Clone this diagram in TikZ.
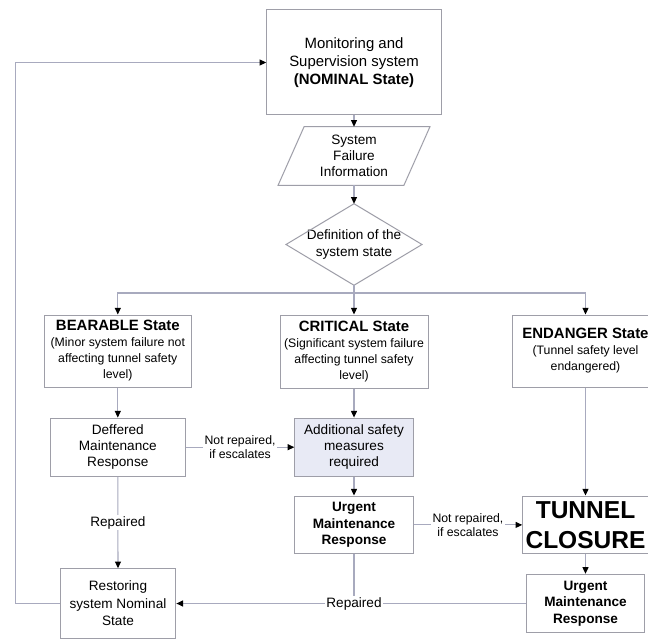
\documentclass[tikz,border=0pt]{standalone}
\usepackage{fontspec}
\setmainfont{Liberation Sans}
\usetikzlibrary{arrows.meta,calc}
\definecolor{lnc}{RGB}{168,170,190}
\definecolor{bdc}{RGB}{158,158,168}
\definecolor{addfill}{RGB}{232,234,245}
\newcommand{\fmain}{\fontsize{10.2}{12.2}\selectfont}
\newcommand{\fsmall}{\fontsize{9.2}{12.0}\selectfont}
\newcommand{\fbig}{\fontsize{11.2}{13.5}\selectfont}
\begin{document}
\begin{tikzpicture}[x=0.75pt,y=-0.75pt,
  box/.style={draw=bdc,line width=0.75pt,rectangle,inner sep=0pt,align=center,font=\fmain},
  conn/.style={draw=lnc,line width=0.8pt},
  arr/.style={conn,-{Triangle[length=5pt,width=4.5pt,color=black]}},
  lbl/.style={fill=white,inner sep=1pt,align=center,font=\fontsize{9.2}{10.2}\selectfont},
  rlbl/.style={fill=white,inner sep=1pt,align=center,font=\fmain}]
\path[use as bounding box, clip] (0,0) rectangle (648,638);
\fill[white] (0,0) rectangle (648,638);

% top column
\node[box,minimum width=130.9pt,minimum height=78.75pt,font=\fbig] (mon) at (354,62.5)
  {Monitoring and\\Supervision system\\\textbf{(NOMINAL State)}};
\node[inner sep=0pt,minimum width=113.5pt,minimum height=43.5pt,align=center,font=\fmain] (sfi) at (354,156)
  {System\\Failure\\Information};
\draw[bdc,line width=0.75pt] ($(sfi.north west)+(26,0)$) -- (sfi.north east)
  -- ($(sfi.south east)-(26,0)$) -- (sfi.south west) -- cycle;
\node[inner sep=0pt,minimum width=101.6pt,minimum height=60.75pt,align=center,font=\fmain] (def) at (354,244.5)
  {Definition of the\\system state};
\draw[bdc,line width=0.75pt] (def.north) -- (def.east) -- (def.south) -- (def.west) -- cycle;

% state boxes
\node[box,minimum width=110.25pt,minimum height=54pt,font=\fsmall] (bear) at (117.8,351)
  {{\fbig\bfseries BEARABLE State}\\(Minor system failure not\\affecting tunnel safety\\level)};
\node[box,minimum width=111pt,minimum height=54.75pt,font=\fsmall] (crit) at (354,351.5)
  {{\fbig\bfseries CRITICAL State}\\(Significant system failure\\affecting tunnel safety\\level)};
\node[box,minimum width=110.25pt,minimum height=54pt,font=\fsmall] (end) at (585.5,351)
  {{\fbig\bfseries ENDANGER State}\\(Tunnel safety level\\endangered)};

% second level
\node[box,minimum width=101.25pt,minimum height=43.7pt] (deff) at (117.8,447.2)
  {Deffered\\Maintenance\\Response};
\node[box,fill=addfill,minimum width=88.8pt,minimum height=43.7pt] (add) at (354,447.2)
  {Additional safety\\measures\\required};
\node[box,minimum width=88.8pt,minimum height=43.3pt,font=\fmain\bfseries] (urg1) at (354,524.9)
  {Urgent\\Maintenance\\Response};
\node[box,minimum width=94.2pt,minimum height=43.3pt,font=\fontsize{18.4}{22.5}\selectfont\bfseries] (tun) at (585.5,524.9)
  {TUNNEL\\CLOSURE};
\node[box,minimum width=88.4pt,minimum height=43.8pt,font=\fmain\bfseries] (urg2) at (585.5,603.5)
  {Urgent\\Maintenance\\Response};
\node[box,minimum width=86.8pt,minimum height=52.2pt,font=\fontsize{10.2}{13.2}\selectfont] (rest) at (118,603.5)
  {Restoring\\system Nominal\\State};

% connectors
\coordinate (br) at (354,293);
\draw[arr] (mon.south) -- (sfi.north);
\draw[arr] (sfi.south) -- (def.north);
\draw[conn] (def.south) -- (br);
\draw[arr] (br) -| (bear.north);
\draw[arr] (br) -| (end.north);
\draw[arr] (br) -- (crit.north);
\draw[arr] (bear.south) -- (deff.north);
\draw[arr] (crit.south) -- (add.north);
\draw[arr] (end.south) -- (tun.north);
\draw[arr] (add.south) -- (urg1.north);
\draw[arr] (tun.south) -- (urg2.north);
\draw[arr] (deff.east) -- node[lbl] {Not repaired,\\if escalates} (add.west);
\draw[arr] (urg1.east) -- node[lbl] {Not repaired,\\if escalates} (tun.west);
\draw[arr] (deff.south) -- node[rlbl] {Repaired} (rest.north);
\coordinate (jn) at (urg1.south |- rest.east);
\draw[conn] (urg1.south) -- (jn);
\draw[arr] (urg2.west) -- (rest.east);
\node[rlbl] (rep2) at (jn) {Repaired};
\coordinate (lc1) at (15.7,603.5);
\coordinate (lc2) at (15.7,62.5);
\draw[arr] (rest.west) -- (lc1) -- (lc2) -- (mon.west);
\end{tikzpicture}
\end{document}
